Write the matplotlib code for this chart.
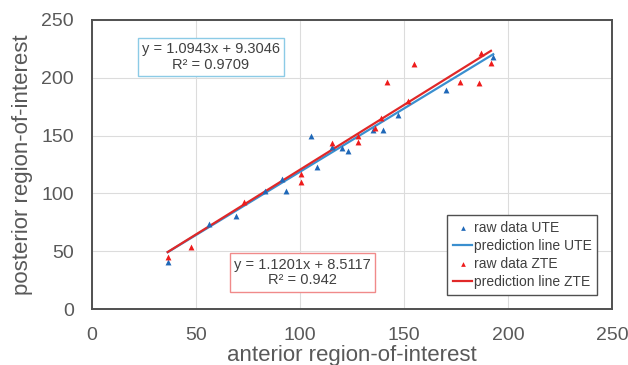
import matplotlib
matplotlib.use("Agg")
import matplotlib.pyplot as plt
import numpy as np

plt.rcParams['font.family'] = ['Liberation Sans', 'DejaVu Sans']

# UTE raw data (anterior, posterior)
ute_x = [36.4, 56.3, 69.2, 83.2, 91.2, 93.3, 105.3, 108.0, 115.2, 120.0, 123.2, 135.2, 140.0, 147.0, 170.0, 192.9]
ute_y = [40.9, 73.3, 80.4, 102.1, 112.5, 102.1, 149.7, 122.6, 140.4, 139.5, 136.7, 154.8, 154.8, 167.8, 189.4, 217.7]

# ZTE raw data (anterior, posterior)
zte_x = [36.4, 47.5, 73.2, 100.3, 100.3, 115.2, 128.0, 128.0, 136.1, 138.9, 142.0, 152.1, 155.0, 176.9, 186.1, 187.0, 191.8]
zte_y = [45.2, 53.9, 92.3, 116.5, 110.1, 144.0, 149.7, 144.5, 156.3, 165.5, 196.6, 179.9, 211.7, 196.6, 195.8, 221.7, 212.5]

# regression coefficients (slope, intercept, R^2)
ute_fit = (1.0943, 9.3046, "0.9709")
zte_fit = (1.1201, 8.5117, "0.942")

x_ticks = [0, 50, 100, 150, 200, 250]
y_ticks = [0, 50, 100, 150, 200, 250]

TXT = '#595959'
C_UTE_PT = '#1f68b8'
C_UTE_LN = '#3a8fcf'
C_ZTE_PT = '#ee1c1c'
C_ZTE_LN = '#e02828'

fig = plt.figure(figsize=(6.28, 3.65), dpi=100)
ax = fig.add_axes([92/628, 1-309/365, 520/628, 289/365])

ax.scatter(ute_x, ute_y, marker='^', s=18, color=C_UTE_PT, zorder=4, label='raw data UTE', linewidths=0)
xu = np.array([min(ute_x), max(ute_x)])
ax.plot(xu, ute_fit[0]*xu + ute_fit[1], color=C_UTE_LN, lw=1.6, zorder=3, label='prediction line UTE')
ax.scatter(zte_x, zte_y, marker='^', s=18, color=C_ZTE_PT, zorder=5, label='raw data ZTE', linewidths=0)
xz = np.array([min(zte_x), max(zte_x)])
ax.plot(xz, zte_fit[0]*xz + zte_fit[1], color=C_ZTE_LN, lw=1.6, zorder=3, label='prediction line ZTE')

ax.set_xlim(0, 250)
ax.set_ylim(0, 250)
ax.set_xticks(x_ticks)
ax.set_yticks(y_ticks)
ax.tick_params(length=0, pad=13, labelsize=14, labelcolor=TXT)
ax.grid(True, color='#dcdcdc', lw=0.8)
ax.set_axisbelow(True)
for sp in ax.spines.values():
    sp.set_color('#505050')
    sp.set_linewidth(1.4)

ax.set_xlabel('anterior region-of-interest', fontsize=16, color=TXT)
ax.set_ylabel('posterior region-of-interest', fontsize=16, color=TXT, labelpad=6)
ax.xaxis.set_label_coords(0.5, -0.125)

ax.text(57.2, 218, f"y = {ute_fit[0]}x + {ute_fit[1]}\nR² = {ute_fit[2]}", ha='center', va='center',
        fontsize=10.5, color='#404040', linespacing=1.15,
        bbox=dict(boxstyle='square,pad=0.3', fc='white', ec='#8ccbe6', lw=1))
ax.text(101.2, 31.6, f"y = {zte_fit[0]}x + {zte_fit[1]}\nR² = {zte_fit[2]}", ha='center', va='center',
        fontsize=10.5, color='#404040', linespacing=1.15,
        bbox=dict(boxstyle='square,pad=0.3', fc='white', ec='#f08a8a', lw=1))

leg = ax.legend(loc='lower right', bbox_to_anchor=(0.985, 0.025), fontsize=10, frameon=True, fancybox=False,
                edgecolor='#505050', framealpha=1, handlelength=1.4, handletextpad=0.1,
                labelspacing=0.3, borderpad=0.4, scatterpoints=1, markerscale=0.8)
leg.get_frame().set_linewidth(1.0)
for t in leg.get_texts():
    t.set_color('#404040')

fig.savefig('out.png', dpi=100)
